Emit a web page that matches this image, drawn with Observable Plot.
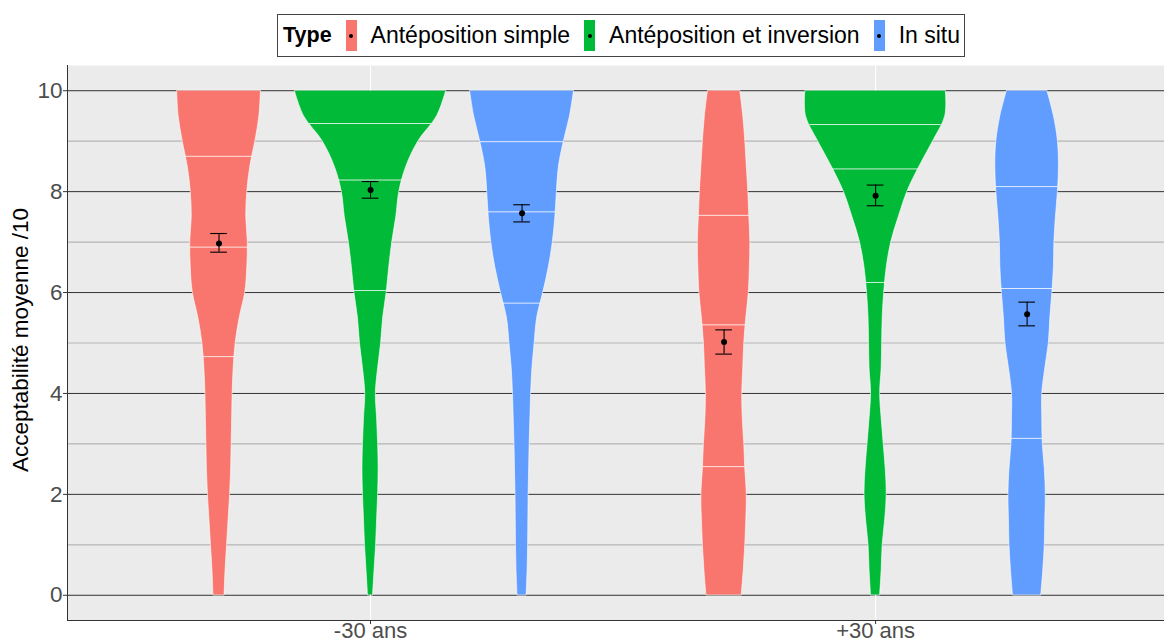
<!DOCTYPE html>
<html>
<head>
<meta charset="utf-8">
<script src="https://cdn.jsdelivr.net/npm/d3@7"></script>
<script src="https://cdn.jsdelivr.net/npm/@observablehq/plot@0.6"></script>
<style>
  html, body { margin: 0; padding: 0; background: #fff; }
  body { width: 1164px; height: 643px; position: relative; overflow: hidden; font-family: "Liberation Sans", Arial, sans-serif; }
  #legend { position: absolute; left: 277px; top: 14px; height: 43px; border: 1px solid #444; display: flex; align-items: center; padding: 0 4px 0 5px; box-sizing: border-box; background: #fff; font-size: 23px; color: #000; white-space: nowrap; }
  #legend .title { font-weight: bold; margin-right: 14px; font-size: 21.5px; }
  #legend .key { width: 11px; height: 31px; position: relative; margin-right: 14px; }
  #legend .key::after { content: ""; position: absolute; left: 3.5px; top: 13.5px; width: 4px; height: 4px; border-radius: 50%; background: #000; }
  #legend .lab { margin-right: 14px; }
  #legend .lab:last-child { margin-right: 0; }
</style>
</head>
<body>
<div id="legend"></div>
<div id="chart"></div>
<script>
// ---- data ----
const categories = ["-30 ans", "+30 ans"];
const types = ["Antéposition simple", "Antéposition et inversion", "In situ"];
const colors = ["#F8766D", "#00BA38", "#619CFF"];
const yTicks = [0, 2, 4, 6, 8, 10];
const yMinor = [1, 3, 5, 7, 9];
// y values at which densities were read
const yGrid = [0, 0.5, 1, 1.5, 2, 2.5, 3, 3.5, 4, 4.5, 5, 5.5, 6, 6.5, 7, 7.5, 8, 8.5, 9, 9.5, 10];
// relative density (violin width) per group / type
const densSimpleMoins = [11, 13, 16, 19, 22, 24, 25, 26, 27, 29, 33, 41, 52, 56, 57, 54, 56, 62, 72, 80, 83];
const densInversionMoins = [5, 8, 11, 13, 15, 16, 15, 13, 10.5, 15, 21, 25, 32, 37, 43, 51, 57, 71, 95, 132, 150];
const densInSituMoins = [9, 11, 12, 12.5, 13, 14, 15, 16.5, 18, 20.5, 25, 30, 42, 53, 61, 66, 69, 73, 83, 95, 103];
const densSimplePlus = [35, 39, 42, 44, 45, 42, 40, 37, 36, 38, 40, 44, 49, 51, 52, 50, 48, 45, 42, 38, 32];
const densInversionPlus = [9, 12, 14, 19, 22, 20, 16, 12, 9, 12, 13, 14, 17, 22, 31, 46, 63, 87, 114, 138, 139];
const densInSituPlus = [28, 32, 35, 36, 37, 35, 31, 30, 30, 36, 43, 46, 50, 53, 54, 57, 61, 63, 61, 53, 40];
// quartiles (25%, 50%, 75%)
const quartSimpleMoins = [4.73, 6.9, 8.7];
const quartInversionMoins = [6.04, 8.23, 9.35];
const quartInSituMoins = [5.79, 7.6, 8.99];
const quartSimplePlus = [2.55, 5.36, 7.53];
const quartInversionPlus = [6.2, 8.45, 9.33];
const quartInSituPlus = [3.11, 6.08, 8.1];
// means with error-bar bounds
const meanMoins = [6.97, 8.03, 7.57];
const lowMoins = [6.80, 7.87, 7.40];
const highMoins = [7.17, 8.20, 7.74];
const meanPlus = [5.02, 7.92, 5.57];
const lowPlus = [4.78, 7.72, 5.34];
const highPlus = [5.26, 8.13, 5.81];

// ---- build tables ----
const dens = [[densSimpleMoins, densInversionMoins, densInSituMoins], [densSimplePlus, densInversionPlus, densInSituPlus]];
const quarts = [[quartSimpleMoins, quartInversionMoins, quartInSituMoins], [quartSimplePlus, quartInversionPlus, quartInSituPlus]];
const means = [meanMoins, meanPlus], lows = [lowMoins, lowPlus], highs = [highMoins, highPlus];
const dodge = 0.9 / 3;           // width per violin (ggplot dodge 0.9)
const maxDens = d3.max(dens.flat(2));
const capHalf = 0.0165;

const violinRows = [], quartRows = [], meanRows = [];
categories.forEach((c, i) => {
  types.forEach((t, j) => {
    const center = (i + 1) + (j - 1) * dodge;
    const d = dens[i][j];
    yGrid.forEach((y, k) => {
      const half = d[k] / maxDens * dodge / 2;
      violinRows.push({key: c + t, type: t, y, x1: center - half, x2: center + half});
    });
    quarts[i][j].forEach(q => {
      const w = d3.scaleLinear(yGrid, d)(q);
      const half = w / maxDens * dodge / 2;
      quartRows.push({y: q, x1: center - half, x2: center + half});
    });
    meanRows.push({x: center, y: means[i][j], lo: lows[i][j], hi: highs[i][j]});
  });
});

const xDomain = [0.4, 2.572];
const yDomain = [-0.5, 10.5];

const chart = Plot.plot({
  width: 1164,
  height: 643,
  marginLeft: 67,
  marginRight: 0,
  marginTop: 65,
  marginBottom: 23,
  style: {fontFamily: "'Liberation Sans', Arial, sans-serif", fontSize: "22.5px", background: "transparent"},
  x: {type: "linear", domain: xDomain, axis: null},
  y: {domain: yDomain, axis: null},
  color: {domain: types, range: colors},
  marks: [
    Plot.frame({fill: "#EBEBEB", stroke: null}),
    Plot.ruleY(yMinor, {stroke: "#B5B5B5", strokeWidth: 1.2}),
    Plot.ruleY(yTicks, {stroke: "#333333", strokeWidth: 1}),
    Plot.ruleX([1, 2], {stroke: "#ffffff", strokeWidth: 1.1}),
    Plot.areaX(violinRows, {y: "y", x1: "x1", x2: "x2", z: "key", fill: "type", stroke: "#ffffff", strokeWidth: 0.6, curve: "catmull-rom"}),
    Plot.ruleY(quartRows, {y: "y", x1: "x1", x2: "x2", stroke: "#ffffff", strokeWidth: 0.8}),
    Plot.ruleX(meanRows, {x: "x", y1: "lo", y2: "hi", stroke: "#000", strokeWidth: 1.1}),
    Plot.ruleY(meanRows, {y: "lo", x1: d => d.x - capHalf, x2: d => d.x + capHalf, stroke: "#000", strokeWidth: 1.1}),
    Plot.ruleY(meanRows, {y: "hi", x1: d => d.x - capHalf, x2: d => d.x + capHalf, stroke: "#000", strokeWidth: 1.1}),
    Plot.dot(meanRows, {x: "x", y: "y", r: 3, fill: "#000"}),
    Plot.ruleX([xDomain[0]], {stroke: "#333", strokeWidth: 1}),
    Plot.ruleY([yDomain[0]], {stroke: "#333", strokeWidth: 1}),
    Plot.axisY(yTicks, {tickSize: 4, tickPadding: 1, color: "#4D4D4D", label: null, stroke: "#333", tickFormat: d3.format("d")}),
    Plot.axisX([1, 2], {tickSize: 4, tickPadding: -2, color: "#4D4D4D", label: null, stroke: "#333", fontSize: 22, tickFormat: d => categories[d - 1]}),
    Plot.text(["Acceptabilité moyenne /10"], {frameAnchor: "left", rotate: -90, dx: -47, dy: -3, textAnchor: "middle", fill: "#000", fontSize: 22.5})
  ]
});
document.getElementById("chart").appendChild(chart);

// ---- legend ----
const legend = document.getElementById("legend");
const title = document.createElement("span");
title.className = "title";
title.textContent = "Type";
legend.appendChild(title);
types.forEach((t, j) => {
  const k = document.createElement("span");
  k.className = "key";
  k.style.background = colors[j];
  legend.appendChild(k);
  const l = document.createElement("span");
  l.className = "lab";
  l.textContent = t;
  legend.appendChild(l);
});
</script>
</body>
</html>
